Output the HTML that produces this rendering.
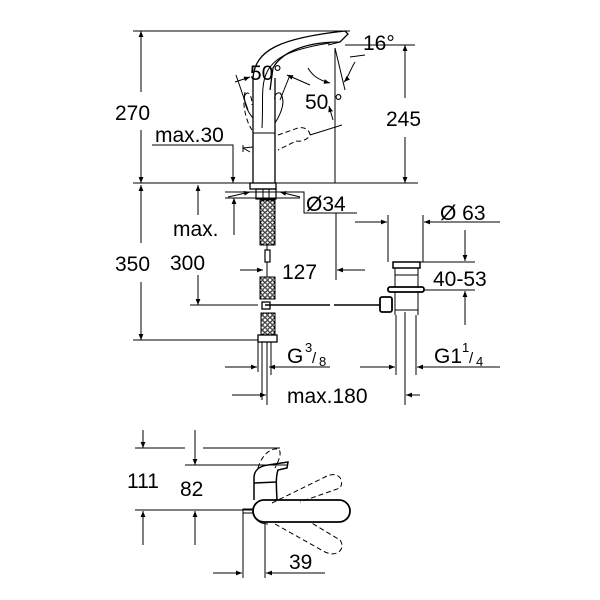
<!DOCTYPE html>
<html><head><style>
html,body{margin:0;padding:0;background:#fff}
svg{display:block}
text{font-family:"Liberation Sans",sans-serif;fill:#000}
</style></head><body>
<svg width="600" height="600" viewBox="0 0 600 600" xmlns="http://www.w3.org/2000/svg">
<defs>
<marker id="a" viewBox="0 0 10 10" refX="10" refY="5" markerWidth="14" markerHeight="6" orient="auto-start-reverse" markerUnits="userSpaceOnUse"><path d="M0,1 L10,5 L0,9 z" fill="#000"/></marker>
<pattern id="h" width="5" height="5" patternUnits="userSpaceOnUse"><rect width="5" height="5" fill="#fff"/><circle cx="2.5" cy="2.5" r="1.8" fill="none" stroke="#000" stroke-width="1"/></pattern>
</defs>
<g stroke="#000" stroke-width="1" fill="none">
<line x1="133" y1="31" x2="350" y2="31"/>
<line x1="133" y1="183" x2="418" y2="183"/>
<line x1="345" y1="45" x2="415" y2="45"/>
<line x1="133" y1="340" x2="258" y2="340"/>
<line x1="141" y1="31" x2="141" y2="92" marker-start="url(#a)"/>
<line x1="141" y1="130" x2="141" y2="183" marker-end="url(#a)"/>
<line x1="141" y1="185" x2="141" y2="243" marker-start="url(#a)"/>
<line x1="141" y1="282" x2="141" y2="340" marker-end="url(#a)"/>
<line x1="405" y1="45" x2="405" y2="98" marker-start="url(#a)"/>
<line x1="405" y1="137" x2="405" y2="183" marker-end="url(#a)"/>
<polyline points="152,145 233,145 233,183"/>
<line x1="233" y1="160" x2="233" y2="183" marker-end="url(#a)"/>
<line x1="198" y1="215" x2="198" y2="185" marker-end="url(#a)"/>
<line x1="234" y1="235" x2="234" y2="198" marker-end="url(#a)"/>
<line x1="225" y1="198" x2="300" y2="198"/>
<line x1="225" y1="192" x2="300" y2="192"/>
<line x1="228" y1="197" x2="250" y2="192" marker-end="url(#a)"/>
<line x1="300" y1="197" x2="280" y2="192" marker-end="url(#a)"/>
<polyline points="290,192 304,192 304,213 357,213"/>
<line x1="240" y1="270" x2="263" y2="270" marker-end="url(#a)"/>
<line x1="336" y1="213" x2="336" y2="280"/>
<line x1="365" y1="270" x2="337" y2="270" marker-end="url(#a)"/>
<line x1="198" y1="275" x2="198" y2="305" marker-end="url(#a)"/>
<line x1="190" y1="305" x2="258" y2="305"/>
<line x1="265" y1="305" x2="330" y2="305" stroke-width="1.5"/>
<line x1="334" y1="305" x2="380" y2="305" stroke-width="1.5"/>
<!-- faucet body -->
<line x1="253" y1="78" x2="253" y2="183" stroke-width="1.3"/>
<line x1="275" y1="78" x2="275" y2="183" stroke-width="1.3"/>
<line x1="253" y1="133" x2="275" y2="133"/>
<path d="M253,78 C255,50 280,38 345,31 L348,34 L340,42 C300,42 280,55 273,68 L270,90" stroke-width="1.3"/>
<path d="M263,88 C265,60 285,50 330,43"/>
<path d="M262,128 C263,110 262,95 263,88"/>
<path d="M340,42 L328,45"/>
<path d="M245,92 C243,100 246,110 253,118"/>
<path d="M275,123 C282,112 286,100 280,93 C276,92 274,96 275,100"/>
<path d="M245,95 C248,90 252,95 252,105 M245,95 C242,100 245,120 252,130" stroke-dasharray="5,3"/>
<path d="M278,135 L298,128 C306,126 310,132 310,135 C308,140 300,142 296,141 L278,150" stroke-dasharray="5,3"/>
<path d="M310,135 L342,125"/>
<path d="M236,75 L248,110"/>
<path d="M290,75 L280,100"/>
<path d="M243,148 L253,147"/>
<path d="M243,145 L243,152 M243,148 L250,152"/>
<line x1="235" y1="82" x2="250" y2="77" marker-end="url(#a)"/>
<line x1="310" y1="85" x2="287" y2="75" marker-end="url(#a)"/>
<path d="M333,120 L329,106" marker-end="url(#a)"/>
<path d="M308,68 C312,75 318,80 330,83" marker-end="url(#a)"/>
<line x1="335" y1="48" x2="345" y2="90"/>
<path d="M355,62 C350,70 348,78 344,82" marker-end="url(#a)"/>
<line x1="350" y1="57" x2="365" y2="55"/>
<line x1="335" y1="48" x2="335" y2="183"/>
<rect x="250" y="183" width="26" height="6" stroke-width="1.3"/>
<rect x="256" y="189" width="20" height="10" stroke-width="1.2"/>
<line x1="263" y1="189" x2="263" y2="199"/><line x1="269" y1="189" x2="269" y2="199"/>
<rect x="260" y="200" width="15" height="45" fill="url(#h)"/>
<rect x="265" y="250" width="5" height="12" stroke-width="1.2"/>
<line x1="267" y1="245" x2="267" y2="250"/>
<line x1="267" y1="262" x2="267" y2="277"/>
<rect x="260" y="277" width="15" height="22" fill="url(#h)"/>
<rect x="262" y="302" width="8" height="7" stroke-width="1.3"/>
<rect x="261" y="313" width="14" height="22" fill="url(#h)"/>
<rect x="258" y="335" width="19" height="7" stroke-width="1.3"/>
<line x1="262" y1="342" x2="262" y2="400"/>
<line x1="267" y1="342" x2="267" y2="405"/>
<line x1="271" y1="342" x2="271" y2="375"/>
<rect x="393" y="262" width="27" height="6" stroke-width="1.5"/>
<line x1="395" y1="268" x2="395" y2="287"/><line x1="418" y1="268" x2="418" y2="287"/>
<line x1="395" y1="275" x2="418" y2="275"/>
<rect x="388" y="287" width="36" height="5" rx="2" stroke-width="1.8"/>
<line x1="395" y1="292" x2="395" y2="315"/><line x1="418" y1="292" x2="418" y2="315"/>
<rect x="380" y="297" width="12" height="15" rx="2" stroke-width="1.8"/>
<line x1="395" y1="310" x2="418" y2="310"/>
<line x1="396" y1="315" x2="396" y2="375"/><line x1="416" y1="315" x2="416" y2="375"/>
<line x1="405" y1="312" x2="405" y2="405"/>
<line x1="388" y1="215" x2="388" y2="262"/><line x1="423" y1="215" x2="423" y2="262"/>
<line x1="355" y1="222" x2="387" y2="222" marker-end="url(#a)"/>
<line x1="500" y1="222" x2="424" y2="222" marker-end="url(#a)"/>
<line x1="420" y1="262" x2="475" y2="262"/>
<line x1="425" y1="290" x2="475" y2="290"/>
<line x1="465" y1="230" x2="465" y2="261" marker-end="url(#a)"/>
<line x1="465" y1="325" x2="465" y2="291" marker-end="url(#a)"/>
<line x1="258" y1="342" x2="258" y2="372"/>
<line x1="225" y1="367" x2="257" y2="367" marker-end="url(#a)"/>
<line x1="330" y1="367" x2="269" y2="367" marker-end="url(#a)"/>
<line x1="360" y1="367" x2="395" y2="367" marker-end="url(#a)"/>
<line x1="500" y1="367" x2="417" y2="367" marker-end="url(#a)"/>
<line x1="232" y1="395" x2="266" y2="395" marker-end="url(#a)"/>
<line x1="420" y1="395" x2="406" y2="395" marker-end="url(#a)"/>
<line x1="135" y1="448" x2="185" y2="448"/>
<line x1="203" y1="448" x2="280" y2="448"/>
<line x1="185" y1="465" x2="287" y2="465"/>
<line x1="135" y1="510" x2="252" y2="510"/>
<line x1="143" y1="430" x2="143" y2="448" marker-end="url(#a)"/>
<line x1="143" y1="545" x2="143" y2="511" marker-end="url(#a)"/>
<line x1="195" y1="430" x2="195" y2="465" marker-end="url(#a)"/>
<line x1="195" y1="545" x2="195" y2="511" marker-end="url(#a)"/>
<line x1="243" y1="513" x2="243" y2="578"/>
<line x1="265" y1="522" x2="265" y2="578"/>
<line x1="213" y1="573" x2="242" y2="573" marker-end="url(#a)"/>
<line x1="325" y1="573" x2="266" y2="573" marker-end="url(#a)"/>
<path d="M254,500 L254,478 C254,470 260,466 268,465 L288,462 L287,468 L278,470 C276,476 276,482 277,500" stroke-width="1.5"/>
<line x1="254" y1="483" x2="277" y2="482" stroke-width="1.5"/>
<rect x="253" y="500" width="97" height="22" rx="11" stroke-width="1.8"/>
<rect x="243" y="509" width="10" height="4"/>
<path d="M254,514 C255,520 260,524 268,524"/>
<path d="M258,468 C262,455 270,448 278,449 C283,452 278,462 275,468" stroke-dasharray="5,3"/>
<path d="M272,503 L325,477 C338,470 345,480 340,488 L300,502" stroke-dasharray="5,3"/>
<path d="M275,524 L325,552 C338,558 346,548 340,540 L310,522" stroke-dasharray="5,3"/>
</g>
<g font-size="21">
<text x="115" y="120">270</text>
<text x="115" y="271">350</text>
<text x="386" y="126">245</text>
<text x="155" y="142">max.30</text>
<text x="173" y="236">max.</text>
<text x="170" y="270">300</text>
<text x="282" y="279">127</text>
<text x="306" y="211">Ø34</text>
<text x="440" y="220">Ø 63</text>
<text x="433" y="286">40-53</text>
<text x="287" y="363">G</text><text x="305" y="352" font-size="13">3</text><text x="312" y="363" font-size="15">/</text><text x="319" y="366" font-size="13">8</text>
<text x="434" y="363">G1</text><text x="462" y="352" font-size="13">1</text><text x="469" y="363" font-size="15">/</text><text x="476" y="366" font-size="13">4</text>
<text x="287" y="403">max.180</text>
<text x="250" y="80">50°</text>
<text x="305" y="109">50 °</text>
<text x="363" y="50">16°</text>
<text x="127" y="488">111</text>
<text x="180" y="496">82</text>
<text x="289" y="569">39</text>
</g>
</svg>
</body></html>
